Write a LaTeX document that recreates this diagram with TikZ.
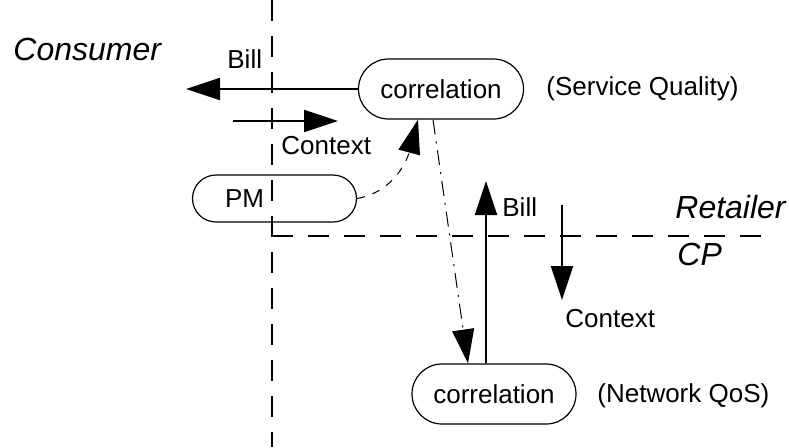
\documentclass[tikz,border=0pt]{standalone}
\usepackage{fontspec}
\setmainfont{Liberation Sans}
\usepackage{tikz}
\usetikzlibrary{calc}
\usetikzlibrary{arrows.meta}
\tikzset{bighead/.tip={Triangle[length=17pt,width=11pt]}}
\tikzset{
	corr/.style={draw,line width=0.6pt,rounded corners=15pt,minimum width=82pt,minimum height=30pt},
	border/.style={line width=0.8pt,dash pattern=on 10.5pt off 7.5pt},
	flow/.style={-bighead,line width=1pt},
	link/.style={-bighead,line width=0.5pt,dash pattern=on 7.5pt off 3.5pt on 1pt off 3.5pt},
	bigtext/.style={font=\fontsize{16}{18}\selectfont\itshape}
}

\begin{document}
\begin{tikzpicture}[x=0.5pt,y=-0.5pt,font=\fontsize{13}{15}\selectfont]
	\useasboundingbox (0,0) rectangle (789,447);
	% borders between the parties
	\coordinate (vtop) at (272,0);
	\coordinate (vbot) at (272,447);
	\coordinate (corner) at (272,236);
	\coordinate (hend) at (768,236);
	\draw[border] (vtop) -- (vbot);
	\draw[border] (corner) -- (hend);
	\node[bigtext,anchor=base west,inner sep=0pt] (consumer) at (13,60) {Consumer};
	\node[bigtext,anchor=base west,inner sep=0pt] (retailer) at (675,218) {Retailer};
	\node[bigtext,anchor=base west,inner sep=0pt] (cp) at (677,265) {CP};
	% correlation nodes
	\node[corr,minimum width=82.5pt] (corrtop) at (441,89) {correlation};
	\node[anchor=base west,inner sep=0pt] (sq) at (546,95) {(Service Quality)};
	\node[corr] (corrbot) at (494,394) {correlation};
	\node[anchor=base west,inner sep=0pt] (nqos) at (597,402) {(Network QoS)};
	\node[corr,rounded corners=11.75pt,minimum height=23.5pt,text width=49.5pt,inner xsep=11.5pt,align=left] (pm) at (274.5,198.5) {PM};
	% bills and contexts
	\coordinate (billend) at (186,89);
	\draw[flow] (corrtop.west) -- (billend);
	\node[anchor=base west,inner sep=0pt] (billtop) at (227,68) {Bill};
	\coordinate (ctxstart) at (233,121);
	\coordinate (ctxend) at (338,121);
	\draw[flow] (ctxstart) -- (ctxend);
	\node[anchor=base west,inner sep=0pt] (ctxtop) at (281,154) {Context};
	\coordinate (billup) at (486,181);
	\draw[flow] ([xshift=-4pt]corrbot.north) -- (billup);
	\node[anchor=base west,inner sep=0pt] (billbot) at (502,216) {Bill};
	\coordinate (ctxdown) at (562,205);
	\coordinate (ctxdownend) at (562,300);
	\draw[flow] (ctxdown) -- (ctxdownend);
	\node[anchor=base west,inner sep=0pt] (ctxbot) at (565,327) {Context};
	% links
	\draw[link] ([xshift=-4pt]corrtop.south) -- ([xshift=-13pt]corrbot.north);
	\draw[-bighead,line width=0.5pt,dash pattern=on 4pt off 4pt] (pm.east) to[out=10,in=-105] ([xshift=-11.5pt]corrtop.south);
\end{tikzpicture}
\end{document}
